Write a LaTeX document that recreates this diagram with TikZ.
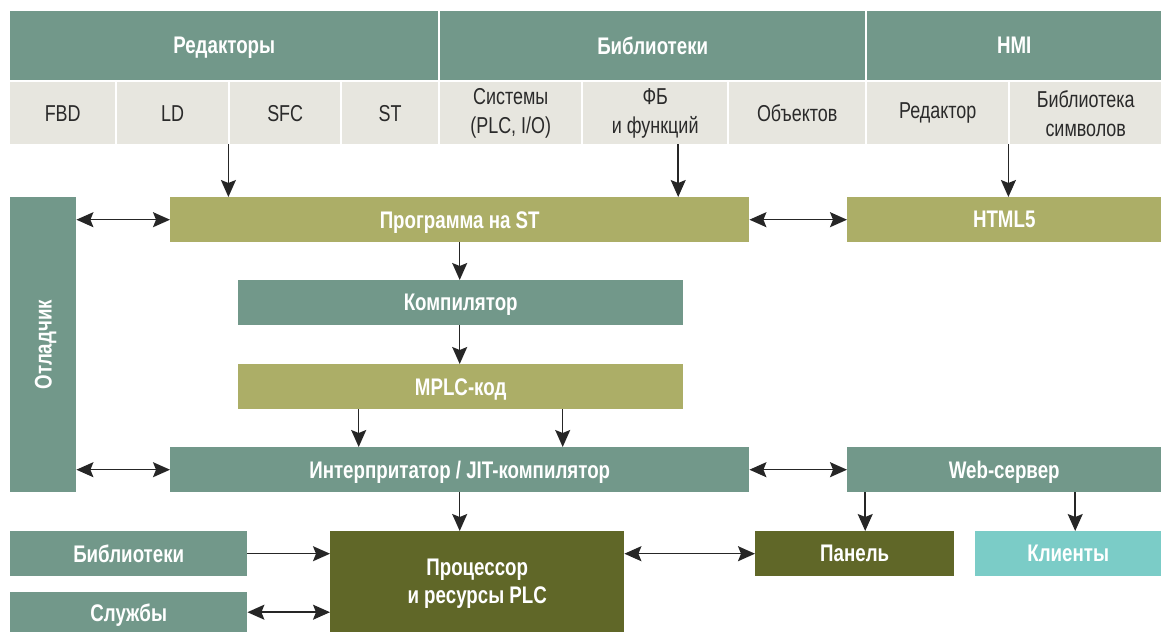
\documentclass[tikz,border=0pt]{standalone}
\usepackage{fontspec}
\setmainfont[FakeStretch=0.78]{Liberation Sans}
\usepackage{tikz}
\usetikzlibrary{arrows.meta,calc,positioning}
\definecolor{plcteal}{HTML}{72988A}
\definecolor{plcolive}{HTML}{ACAE67}
\definecolor{plcdark}{HTML}{606728}
\definecolor{plccyan}{HTML}{7BCCC7}
\definecolor{plcgrey}{HTML}{E7E6DF}
\definecolor{plctext}{HTML}{2A2A2A}
\newcommand{\blk}[7]{%
  \node[#2,anchor=north west,minimum width={#5-#3},minimum height={#6-#4}] (#1) at (#3,#4) {#7};}

\begin{document}
\begin{tikzpicture}[x=1pt,y=-1pt,
  box/.style={inner sep=0pt,align=center,text=white,text depth=0pt,font=\bfseries\fontsize{24}{28}\selectfont},
  teal/.style={box,fill=plcteal},
  olive/.style={box,fill=plcolive},
  dark/.style={box,fill=plcdark},
  cyan/.style={box,fill=plccyan},
  cell/.style={inner sep=0pt,align=center,fill=plcgrey,text=plctext,font=\fontsize{23}{29}\selectfont},
  arr/.style={line width=1.5pt,draw=black!85,>={Stealth[length=17pt,width=15pt,inset=3pt]}}]
\useasboundingbox (0,0) rectangle (1161,632);
% header
\blk{hed}{teal}{10}{11}{438}{80}{Редакторы}
\blk{hlib}{teal}{440}{11}{865}{80}{Библиотеки}
\blk{hhmi}{teal}{867}{11}{1161}{80}{HMI}
\blk{fbd}{cell}{10}{82}{115}{144}{FBD}
\blk{ld}{cell}{117}{82}{228}{144}{LD}
\blk{sfc}{cell}{230}{82}{340}{144}{SFC}
\blk{st}{cell}{342}{82}{438}{144}{ST}
\blk{sys}{cell}{440}{82}{581}{144}{Системы\\(PLC, I/O)}
\blk{fb}{cell}{583}{82}{727}{144}{ФБ\\и функций}
\blk{obj}{cell}{729}{82}{865}{144}{Объектов}
\blk{hmied}{cell}{867}{82}{1008}{144}{Редактор}
\blk{sym}{cell}{1010}{82}{1161}{144}{Библиотека\\символов}
% blocks
\blk{dbg}{teal}{10}{197}{76}{492}{}
\node[box,rotate=90] at (dbg.center) {Отладчик};
\blk{prog}{olive}{170}{197}{749}{242}{Программа на ST}
\blk{html}{olive}{847}{197}{1161}{242}{HTML5}
\blk{comp}{teal}{238}{280}{683}{325}{Компилятор}
\blk{mplc}{olive}{238}{364}{683}{409}{MPLC-код}
\blk{interp}{teal}{170}{447}{749}{492}{Интерпритатор / JIT-компилятор}
\blk{web}{teal}{847}{447}{1161}{492}{Web-сервер}
\blk{libs}{teal}{10}{531}{247}{576}{Библиотеки}
\blk{srv}{teal}{10}{592}{247}{632}{Службы}
\blk{proc}{dark}{330}{531}{624}{632}{Процессор\\и ресурсы PLC}
\blk{panel}{dark}{755}{531}{954}{576}{Панель}
\blk{clients}{cyan}{975}{531}{1161}{576}{Клиенты}
% arrows
\draw[arr,->] (ld.south east) -- (ld.south east |- prog.north);
\draw[arr,->] ([xshift=23]fb.south) -- ([xshift=23]fb.south |- prog.north);
\draw[arr,->] (hmied.south east) -- (hmied.south east |- html.north);
\draw[arr,<->] (dbg.east |- prog.west) -- (prog.west);
\draw[arr,<->] (prog.east) -- (html.west);
\draw[arr,->] (prog.south) -- (prog.south |- comp.north);
\draw[arr,->] (prog.south |- comp.south) -- (prog.south |- mplc.north);
\draw[arr,->] ([xshift=-102]mplc.south) -- ([xshift=-102]mplc.south |- interp.north);
\draw[arr,->] ([xshift=102]mplc.south) -- ([xshift=102]mplc.south |- interp.north);
\draw[arr,<->] (dbg.east |- interp.west) -- (interp.west);
\draw[arr,<->] (interp.east) -- (web.west);
\draw[arr,->] (interp.south) -- (interp.south |- proc.north);
\draw[arr,->] ([xshift=-139]web.south) -- ([xshift=-139]web.south |- panel.north);
\draw[arr,->] ([xshift=71]web.south) -- ([xshift=71]web.south |- clients.north);
\draw[arr,->] (libs.east) -- (libs.east -| proc.west);
\draw[arr,<->] (srv.east) -- (srv.east -| proc.west);
\draw[arr,<->] (proc.east |- panel.west) -- (panel.west);
\end{tikzpicture}
\end{document}
